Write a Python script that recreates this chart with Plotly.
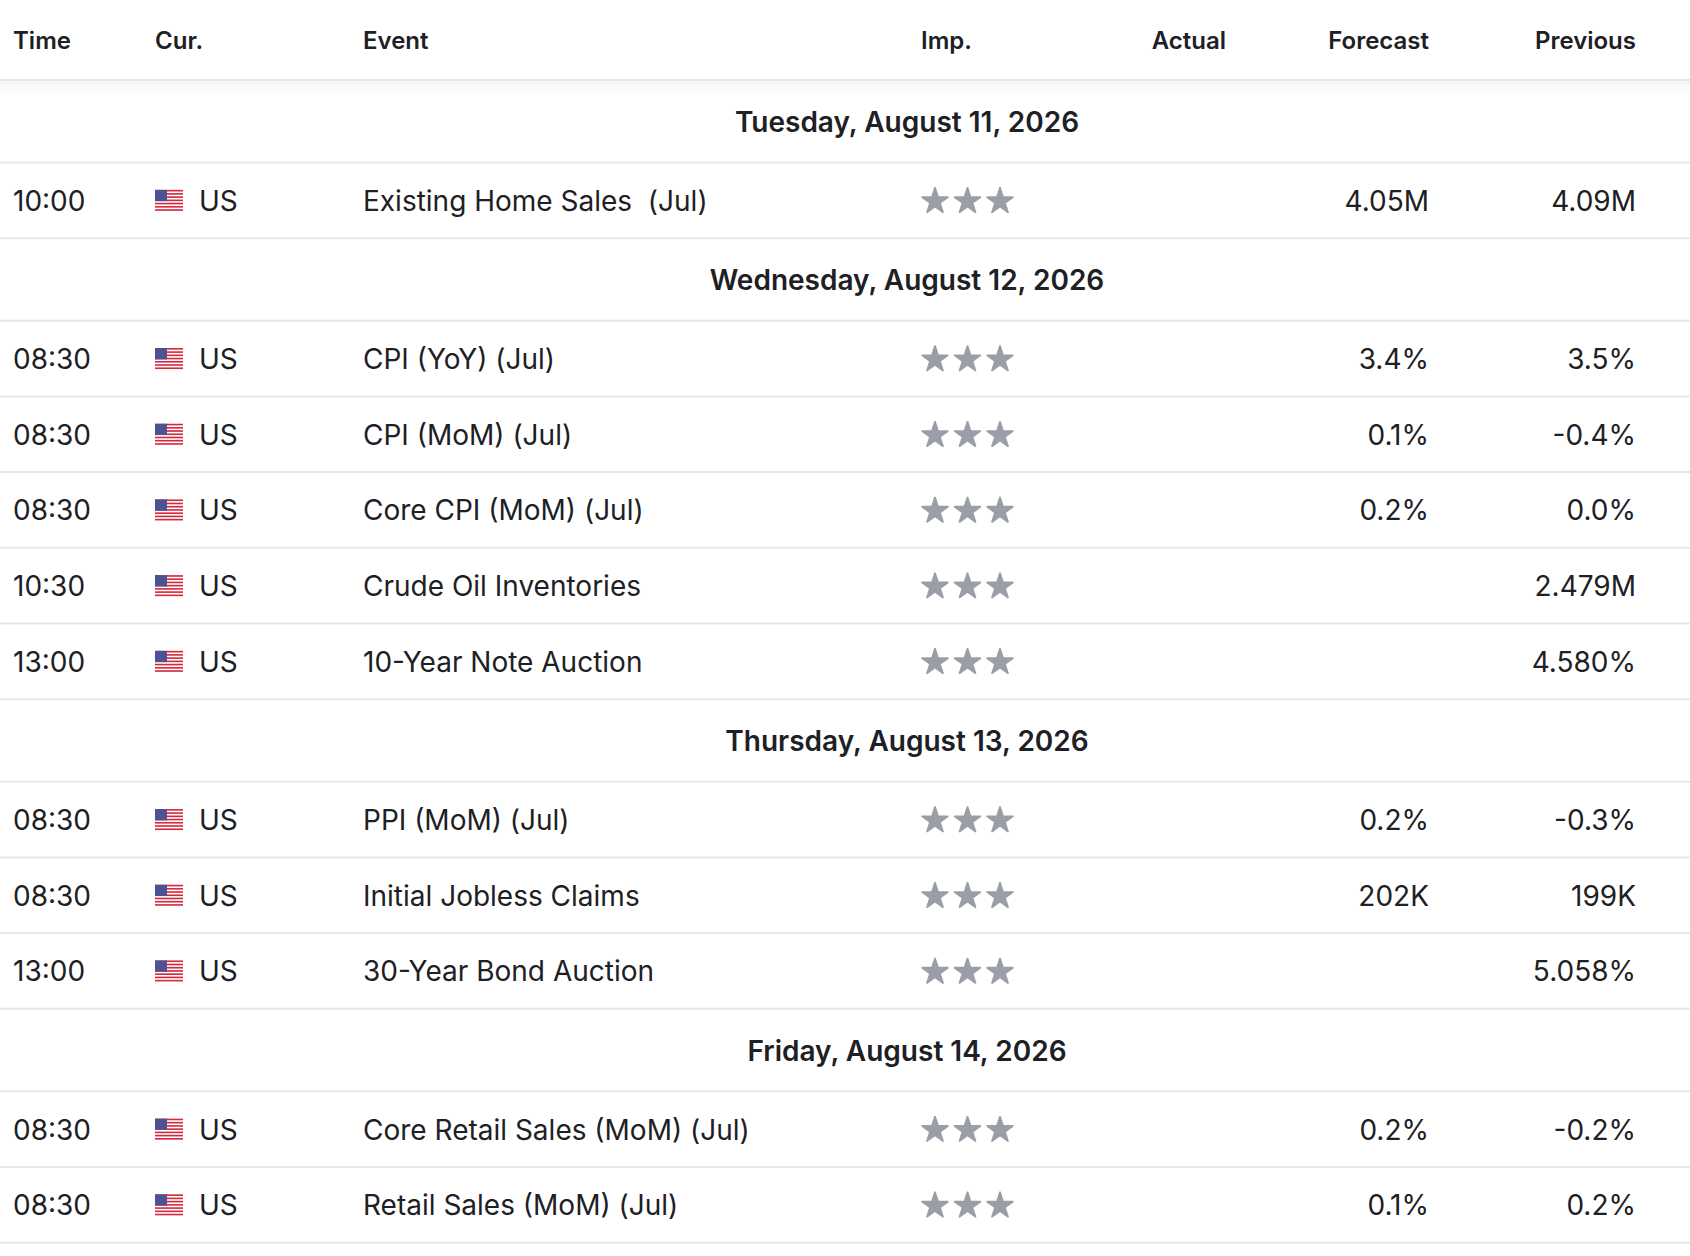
import plotly.graph_objects as go

# dados da tabela (calendário econômico)
columns = ["Time", "Cur.", "Event", "Imp.", "Actual", "Forecast", "Previous"]
dates = ["Tuesday, August 11, 2026", "Wednesday, August 12, 2026",
         "Thursday, August 13, 2026", "Friday, August 14, 2026"]
day_idx = [0, 1, 1, 1, 1, 1, 2, 2, 2, 3, 3]
times = ["10:00", "08:30", "08:30", "08:30", "10:30", "13:00",
         "08:30", "08:30", "13:00", "08:30", "08:30"]
currency = ["US"] * 11
events = ["Existing Home Sales\u00a0 (Jul)", "CPI (YoY) (Jul)", "CPI (MoM) (Jul)",
          "Core CPI (MoM) (Jul)", "Crude Oil Inventories", "10-Year Note Auction",
          "PPI (MoM) (Jul)", "Initial Jobless Claims", "30-Year Bond Auction",
          "Core Retail Sales (MoM) (Jul)", "Retail Sales (MoM) (Jul)"]
importance = [3] * 11
actual = [""] * 11
forecast = ["4.05M", "3.4%", "0.1%", "0.2%", "", "", "0.2%", "202K", "", "0.2%", "0.1%"]
previous = ["4.09M", "3.5%", "-0.4%", "0.0%", "2.479M", "4.580%", "-0.3%", "199K",
            "5.058%", "-0.2%", "0.2%"]

W, H = 1690, 1256
TXT = "#1d2024"
LINE = "#e3e7ee"
FONT = "Inter, Roboto, sans-serif"
HEAD_H = 80
DATE_H = 82.5
ROW_H = 75.7
DY = 3.5  # ajuste vertical do texto

# posições verticais
row_y, date_y, lines = [], [], [HEAD_H]
y = HEAD_H
prev_day = None
for i, d in enumerate(day_idx):
    if d != prev_day:
        date_y.append(y + DATE_H / 2)
        y += DATE_H
        lines.append(y)
        prev_day = d
    row_y.append(y + ROW_H / 2)
    y += ROW_H
    lines.append(y)

fig = go.Figure()

def add_text(xs, ys, texts, pos, size=28, weight=400):
    fig.add_trace(go.Scatter(
        x=xs, y=[v + DY for v in ys], text=texts, mode="text", textposition=pos,
        textfont=dict(family=FONT, size=size, color=TXT, weight=weight),
        hoverinfo="skip", showlegend=False))

# cabeçalho
head_x = [13, 155, 363, 921, 1226, 1429, 1636]
head_pos = ["middle right", "middle right", "middle right", "middle right",
            "middle left", "middle left", "middle left"]
for cx, cp, name in zip(head_x, head_pos, columns):
    add_text([cx], [39], [name], cp, size=24, weight=600)

# datas
add_text([907] * len(dates), date_y, dates, "middle center", size=28, weight=600)

# linhas
add_text([13] * len(times), row_y, times, "middle right")
add_text([199] * len(currency), row_y, currency, "middle right")
add_text([363] * len(events), row_y, events, "middle right")
add_text([1226] * len(actual), row_y, actual, "middle left")
add_text([1429] * len(forecast), row_y, forecast, "middle left")
add_text([1636] * len(previous), row_y, previous, "middle left")

# estrelas de importância
sx, sy = [], []
for yy, n in zip(row_y, importance):
    for k in range(n):
        sx.append(935 + 32.5 * k)
        sy.append(yy + 1)
fig.add_trace(go.Scatter(x=sx, y=sy, mode="markers",
                         marker=dict(symbol="star", size=20, color="#9a9ea7",
                                     line=dict(width=1.5, color="#9a9ea7")),
                         hoverinfo="skip", showlegend=False))

shapes = []
# sombra abaixo do cabeçalho
for k in range(14):
    shapes.append(dict(type="rect", x0=0, x1=W, y0=HEAD_H + 1 + k, y1=HEAD_H + 2 + k,
                       fillcolor="rgba(30,40,60,%.3f)" % (0.035 * (1 - k / 14)),
                       line_width=0, layer="below"))
for ly in lines:
    shapes.append(dict(type="line", x0=0, x1=W, y0=ly, y1=ly,
                       line=dict(color=LINE, width=2)))

# bandeiras
for yy in row_y:
    fx0, fx1 = 155, 183
    fy0 = yy - 10.5
    sh = 21 / 13
    shapes.append(dict(type="rect", x0=fx0, x1=fx1, y0=fy0, y1=fy0 + 21,
                       fillcolor="#d6283f", line_width=0))
    for s in range(1, 13, 2):
        shapes.append(dict(type="rect", x0=fx0, x1=fx1, y0=fy0 + s * sh, y1=fy0 + (s + 1) * sh,
                           fillcolor="#ffffff", line_width=0))
    shapes.append(dict(type="rect", x0=fx0, x1=fx0 + 12, y0=fy0, y1=fy0 + 7 * sh,
                       fillcolor="#4d5291", line_width=0))

fig.update_layout(
    width=W, height=H,
    margin=dict(l=0, r=0, t=0, b=0),
    paper_bgcolor="white", plot_bgcolor="white",
    xaxis=dict(range=[0, W], visible=False, fixedrange=True),
    yaxis=dict(range=[H, 0], visible=False, fixedrange=True),
    shapes=shapes,
)

# tira a margem padrão do body para a figura ocupar a janela toda
fig.write_html("out.html", config={"displayModeBar": False},
               post_script="document.body.style.margin='0';document.body.style.overflow='hidden';")
